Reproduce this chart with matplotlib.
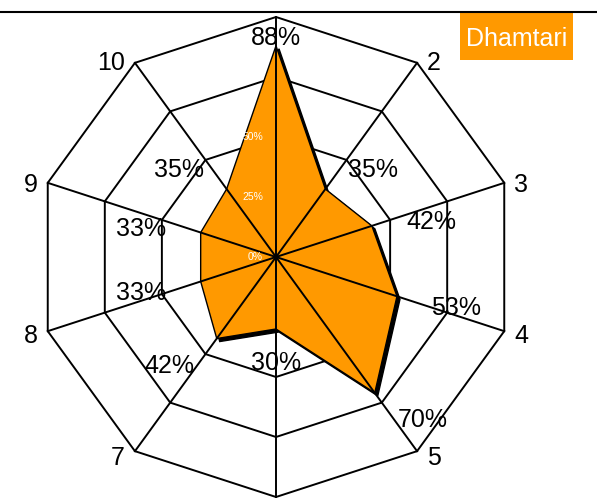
import matplotlib.pyplot as plt
import matplotlib.transforms as mtransforms
from matplotlib.lines import Line2D
from matplotlib.patches import Polygon, Rectangle
import numpy as np

plt.rcParams['font.family'] = ['Liberation Sans', 'DejaVu Sans']

# Data
categories = ['1', '2', '3', '4', '5', '6', '7', '8', '9', '10']
values = [88, 35, 42, 53, 70, 30, 42, 33, 33, 35]
ring_levels = [25, 50, 75, 100]
tick_levels = [0, 25, 50, 75, 100]
series_name = 'Dhamtari'

orange = '#FF9900'

W, H, DPI = 597, 498, 100
fig = plt.figure(figsize=(W / DPI, H / DPI), dpi=DPI)

# centre of the radar in pixels and pixels per value unit
cx, cy = 276, 257
scale = 2.4

ax = fig.add_axes([0, 0, 1, 1])
ax.set_xlim(-cx / scale, (W - cx) / scale)
ax.set_ylim(-(H - cy) / scale, cy / scale)
ax.axis('off')

n = len(categories)
angles = np.arange(n) * 2 * np.pi / n   # clockwise from the top
sx, sy = np.sin(angles), np.cos(angles)

# decagon rings
for lev in ring_levels:
    ax.add_patch(Polygon(np.column_stack([sx * lev, sy * lev]), closed=True,
                         fill=False, edgecolor='black', lw=1.4, zorder=1))

# data polygon with hard shadow
vals = np.array(values)
pts = np.column_stack([sx * vals, sy * vals])
shadow_tr = mtransforms.offset_copy(ax.transData, fig=fig, x=3, y=-3, units='dots')
ax.add_patch(Polygon(pts, closed=True, facecolor='black', edgecolor='black',
                     lw=1, transform=shadow_tr, zorder=2))
ax.add_patch(Polygon(pts, closed=True, facecolor=orange, edgecolor='black',
                     lw=1.0, zorder=3))

# spokes drawn over the polygon
for x, y in zip(sx, sy):
    ax.plot([0, x * 100], [0, y * 100], color='black', lw=1.4, zorder=4)

# scale labels along the top axis
for lev in tick_levels:
    ax.annotate(f'{lev}%', xy=(0, lev), xytext=(-13, 0), textcoords='offset pixels',
                ha='right', va='center', fontsize=7.5, color='white', zorder=5)

# category labels at the outer vertices (1 and 6 fall outside the visible area)
for i, cat in enumerate(categories):
    if sx[i] > 0.1:
        ha, dx = 'left', 10
    elif sx[i] < -0.1:
        ha, dx = 'right', -10
    else:
        continue
    dy = 4 * sy[i] - 1
    ax.annotate(cat, xy=(sx[i] * 100, sy[i] * 100), xytext=(dx, dy),
                textcoords='offset pixels', ha=ha, va='center_baseline',
                fontsize=18, zorder=6)

# value labels just outside each point
for i, v in enumerate(values):
    pad = 32 if i else 9   # top label kept under the header line
    if sx[i] > 0.1:
        ha, dx = 'left', 4
    elif sx[i] < -0.1:
        ha, dx = 'right', -4
    else:
        ha, dx = 'center', 0
    dy = -4 if (sy[i] > 0.1 and i) else 1
    ax.annotate(f'{v}%', xy=(sx[i] * v, sy[i] * v),
                xytext=(sx[i] * pad + dx, sy[i] * pad + dy),
                textcoords='offset pixels',
                ha=ha, va='center_baseline', fontsize=18, zorder=6)

# header line and legend box
fig.add_artist(Line2D([0, 1], [1 - 12 / H, 1 - 12 / H], color='black', lw=1.5,
                      transform=fig.transFigure))
fig.add_artist(Rectangle((460 / W, 1 - 60 / H), 113 / W, 48 / H,
                         facecolor=orange, edgecolor='none',
                         transform=fig.transFigure))
fig.text(516.5 / W, 1 - 36 / H, series_name, ha='center', va='center_baseline',
         fontsize=18, color='white')

fig.savefig('out.png', dpi=DPI)
